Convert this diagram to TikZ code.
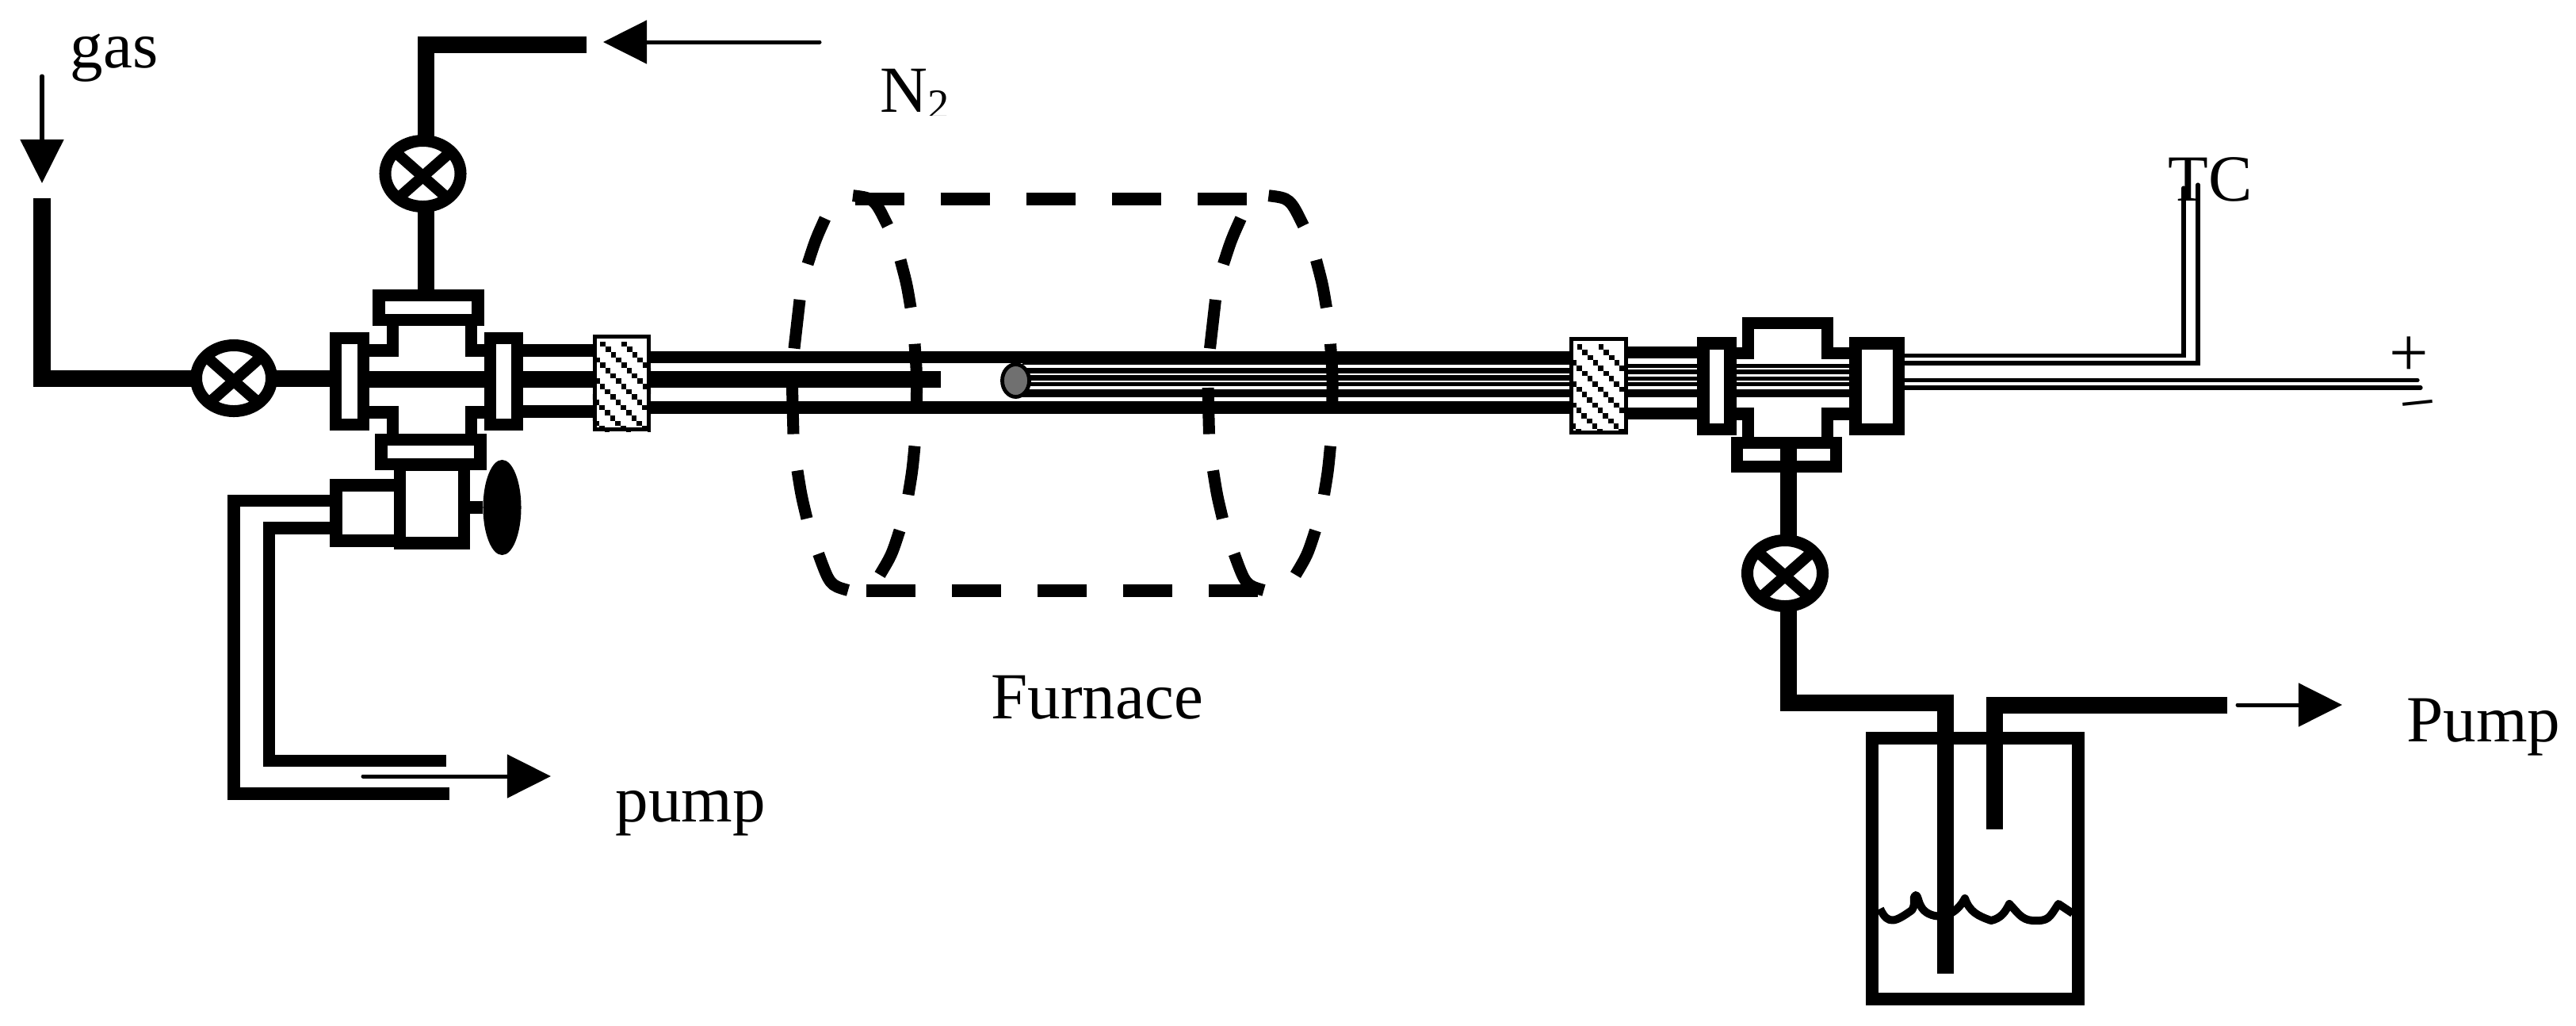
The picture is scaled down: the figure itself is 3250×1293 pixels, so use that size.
\documentclass[tikz,border=0pt]{standalone}
\usepackage{fontspec}
\setmainfont{Liberation Serif}
\usetikzlibrary{arrows.meta, shapes.geometric}
\tikzset{x=0.01cm, y=-0.01cm,
    pipe/.style={line width=.21cm},
    wall/.style={line width=.155cm},
    wire/.style={line width=.055cm},
    lead/.style={line width=.052cm, line cap=round},
    flange/.style 2 args={draw, fill=white, line width=.155cm, inner sep=0pt, minimum width=#1*0.01cm, minimum height=#2*0.01cm},
    valvebody/.style={ellipse, draw, fill=white, line width=.15cm, inner sep=0pt, minimum width=.95cm, minimum height=.83cm},
    plugbox/.style={draw, fill=white, line width=.05cm, inner sep=0pt, minimum width=.68cm, minimum height=1.17cm},
    flow/.style={line width=.05cm, line cap=round, -{Triangle[length=.55cm, width=.54cm]}},
    furnacedash/.style={line width=.15cm},
    furnaceline/.style={line width=.155cm, dash pattern=on .62cm off .46cm},
    label/.style={inner sep=0pt, anchor=base west, font=\fontsize{23.6pt}{28pt}\selectfont}}

\newcommand{\valve}[3]{
    \node[valvebody] (#1) at (#2,#3) {};
    \draw[line width=.14cm] ([shift={(-34,-26.5)}]#1.center) -- ([shift={(34,33.5)}]#1.center);
    \draw[line width=.14cm] ([shift={(34,-26.5)}]#1.center) -- ([shift={(-34,33.5)}]#1.center);
}
\newcommand{\plug}[3]{
    \node[plugbox] (#1) at (#2,#3) {};
    \begin{scope}
        \clip (#1.south west) rectangle (#1.north east);
        \foreach \i in {-6,...,1}
            \foreach \k in {0,...,17}
                \fill ({#2-24+27*\i+6.67*\k-3.3},{#3-49+6.67*\k-3.3}) rectangle ++(6.67,6.67);
    \end{scope}
}

\begin{document}
\begin{tikzpicture}
    \useasboundingbox (0,0) rectangle (3250,1293);

    \coordinate (gasin) at (53,250);
    \coordinate (n2in) at (740,56);
    \coordinate (n2join) at (537.5,56);
    \coordinate (rodend) at (1187,478);
    \coordinate (rodstart) at (466,478);

    % left cross
    \node[flange={80.5}{70}] (sidebox) at (464.25,647) {};
    \node[flange={81}{99}] (pumpbox) at (545,635.5) {};
    \node[flange={125}{31}] (ftl) at (540.5,388) {};
    \node[flange={125}{31}] (fbl) at (543.5,570) {};
    \draw[wall] (466,442) -| (495.5,411);
    \draw[wall] (611,442) -| (594.5,411);
    \draw[wall] (466,520) -| (495.5,547);
    \draw[wall] (611,520) -| (594.5,547);
    \draw[pipe] (rodstart) -- (rodend);
    \draw[wall] (660,442) -- (748,442);
    \draw[wall] (660,519) -- (748,519);
    \node[flange={35}{109}] (fll) at (441,481) {};
    \node[flange={34}{109}] (frl) at (635.5,481) {};

    \draw[pipe] (gasin) |- (295,477) -- (416,477);
    \valve{valveL}{295}{477}
    \draw[pipe] (n2in) -- (n2join) -- (n2join |- ftl.north);
    \valve{valveT}{533.5}{219}

    \draw[wall] (416,631.5) -| (295,1001) -- (567,1001);
    \draw[wall] (416,666) -| (339.5,959.5) -- (563,959.5);
    \node[ellipse, fill=black, inner sep=0pt, minimum width=.48cm, minimum height=1.2cm] (knob) at (633.5,640) {};
    \draw[wall] (pumpbox.east |- knob) -- (knob);

    % furnace tube
    \draw[wall] (820,450.5) -- (1981,450.5);
    \draw[wall] (820,514) -- (1981,514);
    \draw[line width=.02cm] (1290,459) -- (1981,459);
    \draw[line width=.065cm] (1290,467.7) -- (1981,467.7);
    \draw[line width=.07cm] (1290,476.5) -- (1981,476.5);
    \draw[line width=.05cm] (1290,484.5) -- (1981,484.5);
    \draw[line width=.1cm] (1290,496) -- (1981,496);
    \node[ellipse, draw, fill=black!56, line width=.048cm, inner sep=0pt, minimum width=.34cm, minimum height=.41cm] (ball) at (1281.5,480) {};
    \plug{plugL}{784.5}{483}
    \plug{plugR}{2017}{486.5}

    % right cross
    \draw[wall] (2053,444.5) -- (2141,444.5);
    \draw[wall] (2053,521.5) -- (2141,521.5);
    \draw[wire] (2053,461.7) -- (2333,461.7);
    \draw[wire] (2053,469) -- (2333,469);
    \draw[wire] (2053,477.5) -- (2333,477.5);
    \draw[wire] (2053,484.7) -- (2333,484.7);
    \draw[line width=.1cm] (2053,496.3) -- (2333,496.3);
    \draw[wall] (2191,445.5) -| (2205.5,407.5) -| (2305.5,445.5) -- (2333,445.5);
    \draw[wall] (2191,522) -| (2205.5,551);
    \draw[wall] (2333,522) -| (2305.5,551);
    \node[flange={34}{108.5}] (fla) at (2166,487) {};
    \node[flange={54.5}{108.5}] (flb) at (2368,487) {};
    \draw[lead] (flb.east |- 0,448.5) -| (2755,237);
    \draw[lead] (flb.east |- 0,458) -| (2773,233);
    \draw[lead] (flb.east |- 0,479.5) -- (3050,479.5);
    \draw[lead] (flb.east |- 0,489) -- (3054,489);

    % bubbler
    \node[flange={125}{30}] (fbr) at (2254,573.5) {};
    \node[flange={260}{329}, fill=none] (bubbler) at (2492,1095.5) {};
    \draw[line width=.1cm, line join=round] (2372,1146) .. controls (2382,1168) and (2392,1162) .. (2412,1148) .. controls (2418,1140) and (2412,1130) .. (2417,1129)
        .. controls (2422,1130) and (2418,1150) .. (2441,1155) .. controls (2455,1158) and (2470,1150) .. (2479,1133)
        .. controls (2485,1150) and (2495,1155) .. (2512,1161) .. controls (2525,1158) and (2530,1150) .. (2535,1140)
        .. controls (2545,1150) and (2550,1160) .. (2564,1161) .. controls (2585,1162) and (2585,1158) .. (2597,1140) -- (2615,1152);
    \coordinate (rpipetop) at (2256,555);
    \coordinate (inletjoin) at (2454,886);
    \coordinate (inletend) at (2454,1228);
    \coordinate (outlet) at (2810,889.5);
    \draw[pipe] (rpipetop) |- (inletjoin) -- (inletend);
    \draw[pipe] (outlet) -| (2516,1046);
    \valve{valveR}{2252}{723}

    % furnace
    \draw[furnaceline] (1078.6,251) -- (1573,251);
    \draw[furnaceline] (1093,745) -- (1588,745);
    \foreach \dx in {0,524.5} {
        \begin{scope}[shift={(\dx,0)}]
            \foreach \ax/\ay/\cx/\cy/\bx/\by in {1041/275.5/1029/302/1019/333, 1009/378/1005/408/1002/439.5, 999.5/489/999.5/518/1001/547.5,
                1006/593.5/1011/625/1018/654, 1032.6/698.5/1047/738/1070/744.5, 1076/246.7/1103/250/1120/284.7,
                1136/328/1144/358/1149/388, 1154/433.7/1157/476/1156/518, 1154/562.5/1151/594/1146/624, 1135/669/1125/700/1110/725}
                \draw[furnacedash] (\ax,\ay) .. controls (\cx,\cy) .. (\bx,\by);
        \end{scope}
    }

    % arrows and labels
    \coordinate (gasa) at (53,96);
    \coordinate (gasb) at (53,231);
    \coordinate (n2a) at (1034,53);
    \coordinate (n2b) at (761,53);
    \coordinate (pumpa) at (458,979);
    \coordinate (pumpb) at (695,979);
    \coordinate (outa) at (2823,889);
    \coordinate (outb) at (2955,889);
    \draw[flow] (gasa) -- (gasb);
    \draw[flow] (n2a) -- (n2b);
    \draw[flow] (pumpa) -- (pumpb);
    \draw[flow] (outa) -- (outb);

    \node[label] (gas) at (88,85) {gas};
    \begin{scope}
        \clip (1100,70) rectangle (1205,145);
        \node[label] (n2) at (1110,141) {N\raisebox{-.09cm}{\fontsize{15.5pt}{18pt}\selectfont 2}};
    \end{scope}
    \node[label] (tc) at (2735,253) {TC};
    \node[label] (furnace) at (1250,906) {Furnace};
    \node[label] (pumpL) at (776,1036) {pump};
    \node[label] (pumpR) at (3036,935) {Pump};
    \node[inner sep=0pt, font=\fontsize{25pt}{28pt}\selectfont] (plus) at (3039,450) {+};
    \node[inner sep=0pt, rotate=6, font=\fontsize{23pt}{28pt}\selectfont] (minus) at (3052,521) {−};
\end{tikzpicture}
\end{document}
